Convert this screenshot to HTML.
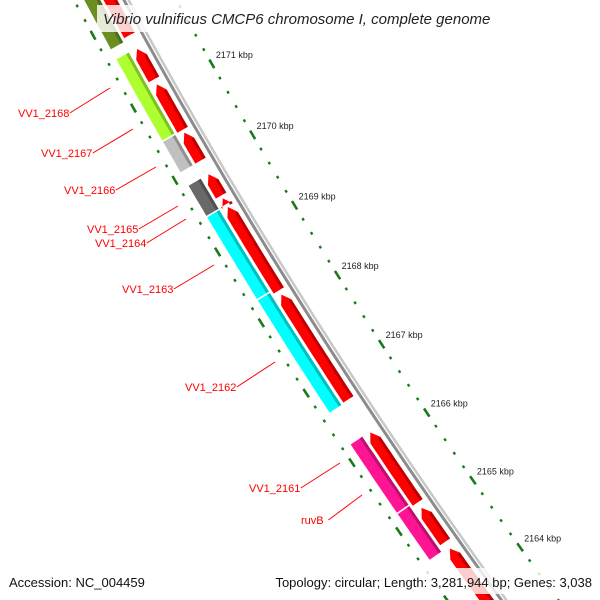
<!DOCTYPE html>
<html><head><meta charset="utf-8"><style>
html,body{margin:0;padding:0;background:#fff;overflow:hidden;width:600px;height:600px;}
svg{display:block;font-family:"Liberation Sans","DejaVu Sans",sans-serif;}
</style></head><body>
<svg id="map" width="600" height="600" viewBox="0 0 600 600" xmlns="http://www.w3.org/2000/svg">
<g id="ticks"></g>
<g id="backbone"></g>
<g id="genes"></g>
<g id="fwd"></g>
<g id="labels"></g>
<g>
<rect x="97" y="5" width="404" height="27" fill="#fff" fill-opacity="0.82"/>
<text x="103" y="24" font-size="15" font-style="italic" fill="#222">Vibrio vulnificus CMCP6 chromosome I, complete genome</text>
</g>
<g>
<rect x="255" y="568" width="345" height="26" fill="#fff" fill-opacity="0.8"/>
<text x="9" y="587" font-size="13" fill="#111">Accession: NC_004459</text>
<text x="592" y="587" font-size="13" fill="#111" text-anchor="end">Topology: circular; Length: 3,281,944 bp; Genes: 3,038</text>
</g>
</svg>
<script>
// ---- data ----
const geneStarts = [2171.74, 2170.48, 2170.04, 2169.43, 2168.26, 2166.64, 2165.19, 2164.50];
const geneEnds   = [2174.00, 2171.62, 2170.48, 2169.87, 2169.43, 2168.26, 2166.20, 2165.19];
const geneColors = ["#6b8e23", "#adff2f", "#c0c0c0", "#696969", "#00ffff", "#00ffff", "#ff1493", "#ff1493"];
const redStarts = [2171.77, 2171.16, 2170.46, 2170.03, 2169.54, 2169.42, 2168.20, 2166.64, 2165.14, 2164.56, 2162.50];
const redEnds   = [2174.00, 2171.62, 2171.13, 2170.46, 2169.88, 2169.54, 2169.42, 2168.18, 2166.20, 2165.10, 2164.50];
const tickKbp = [2164, 2165, 2166, 2167, 2168, 2169, 2170, 2171];
const tickLabels = ["2164 kbp","2165 kbp","2166 kbp","2167 kbp","2168 kbp","2169 kbp","2170 kbp","2171 kbp"];
const labelTexts = ["VV1_2168","VV1_2167","VV1_2166","VV1_2165","VV1_2164","VV1_2163","VV1_2162","VV1_2161","ruvB"];
const labelX = [18, 41, 64, 87, 95, 122, 185, 249, 301];
const labelY = [117, 157, 194, 233, 247, 293, 391, 492, 524];
const lineEndX = [110, 133, 156, 178, 186, 214, 275, 340, 362];
const lineEndY = [88, 129, 167, 206, 219, 265, 362, 463, 495];
// ---- geometry ----
const NS = "http://www.w3.org/2000/svg";
const CX = 4865.3, CY = -2563.6, RT = 5344;
function ang(k){ return (144.40 + (k - 2164) * 0.8786) * Math.PI / 180; }
function pt(r, k){ const a = ang(k); return [CX + r * Math.cos(a), CY + r * Math.sin(a)]; }
function mk(tag, attrs, parent){ const e = document.createElementNS(NS, tag); for (const k in attrs) e.setAttribute(k, attrs[k]); parent.appendChild(e); return e; }
function arcPath(r, k1, k2){ const a = pt(r, k1), b = pt(r, k2); return `M${a[0]},${a[1]} A${r},${r} 0 0 1 ${b[0]},${b[1]}`; }
function band(r1, r2, k1, k2, head){
  const pts = [];
  const kh = head ? k2 - 0.11 : k2;
  const n = 12;
  for (let i = 0; i <= n; i++) pts.push(pt(r2, k1 + (kh - k1) * i / n));
  if (head) pts.push(pt((r1 + r2) / 2, k2));
  for (let i = n; i >= 0; i--) pts.push(pt(r1, k1 + (kh - k1) * i / n));
  return pts.map(p => p[0].toFixed(1) + "," + p[1].toFixed(1)).join(" ");
}
function shade(c, f){ const v = parseInt(c.slice(1), 16); const r = (v >> 16) & 255, g = (v >> 8) & 255, b = v & 255; return `rgb(${Math.round(r*f)},${Math.round(g*f)},${Math.round(b*f)})`; }
// backbone
const bb = document.getElementById("backbone");
const bb1 = mk("path", {d: arcPath(RT + 42, 2163, 2174), stroke: "#c8c8c8", "stroke-width": 2.5, fill: "none"}, bb);


const bb2 = mk("path", {d: arcPath(RT + 46, 2163, 2174), stroke: "#8c8c8c", "stroke-width": 3, fill: "none"}, bb);


// ticks
const tg = document.getElementById("ticks");
for (let i = 0; i <= 60; i++) {
  const k = 2162 + i * 0.2;
  const major = Math.abs(k - Math.round(k)) < 0.01;
  const half = major ? 0.06 : 0.017;
  [RT, RT + 90].forEach(r => {
    const t = mk("path", {d: arcPath(r, k - half, k + half), stroke: "#1a7a1a", "stroke-width": major ? 2.6 : 2.4, fill: "none"}, tg);
    
    
  });
}
tickKbp.forEach((k, i) => {
  const p = pt(RT, k);
  const t = mk("text", {x: p[0] + 4, y: p[1] - 6, "font-size": 9, fill: "#222"}, tg);
  t.textContent = tickLabels[i];
  
  
});
// colored genes
const gg = document.getElementById("genes");
geneStarts.forEach((s, i) => {
  const g = mk("g", {}, gg);
  
  
  mk("polygon", {points: band(RT + 67, RT + 81, s + 0.01, geneEnds[i] - 0.01, false), fill: geneColors[i]}, g);
  mk("polygon", {points: band(RT + 67, RT + 70, s + 0.01, geneEnds[i] - 0.01, false), fill: shade(geneColors[i], 0.75)}, g);
});
// red genes
const fg = document.getElementById("fwd");
redStarts.forEach((s, i) => {
  const g = mk("g", {}, fg);
  
  
  mk("polygon", {points: band(RT + 52, RT + 64, s + 0.02, redEnds[i] - 0.02, true), fill: "#ff0000"}, g);
  mk("polygon", {points: band(RT + 52, RT + 55, s + 0.02, redEnds[i] - 0.13, false), fill: "#c00000"}, g);
});
// labels
const lg = document.getElementById("labels");
labelTexts.forEach((t, i) => {
  const l = mk("line", {x1: labelX[i] + t.length * 6.1 + 3, y1: labelY[i] - 4, x2: lineEndX[i], y2: lineEndY[i], stroke: "#ff0000", "stroke-width": 1}, lg);
  
  
  const tx = mk("text", {x: labelX[i], y: labelY[i], "font-size": 11, fill: "#ff0000"}, lg);
  tx.textContent = t;
  
  
});
</script>
</body></html>
